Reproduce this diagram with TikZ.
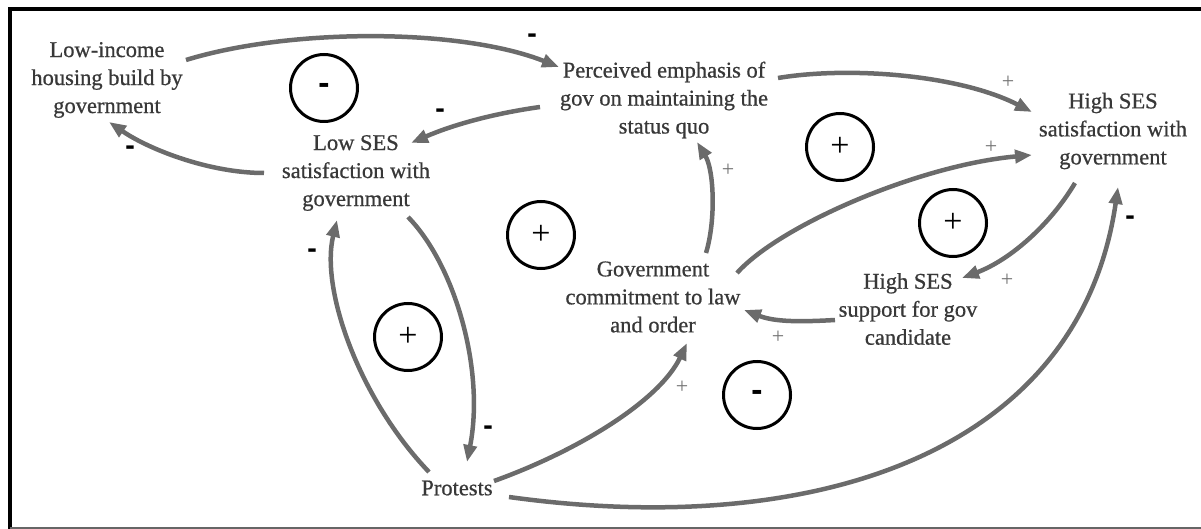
\documentclass[tikz,border=0pt]{standalone}
\usepackage{fontspec}
\setmainfont{Liberation Serif}
\newfontfamily\varfont[FakeBold=0.7]{Liberation Serif}
\newfontfamily\signfont{DejaVu Sans}
\usetikzlibrary{arrows.meta,calc}
\begin{document}
\begin{tikzpicture}[x=1pt,y=-1pt,
  var/.style={align=center, text=black!78, font=\varfont\fontsize{22.5}{28}\selectfont, inner sep=0pt},
  link/.style={draw=black!58, line width=4.5pt, -{Triangle[length=17pt,width=13pt]}},
  loopc/.style={circle, draw=black, line width=3pt, minimum size=67pt, inner sep=0pt, font=\fontsize{34}{34}\selectfont},
  negsign/.style={font=\signfont\bfseries\fontsize{24}{24}\selectfont, text=black, inner sep=0pt},
  possign/.style={font=\fontsize{22}{22}\selectfont, text=black!55, inner sep=0pt}]
\useasboundingbox (0,0) rectangle (1201,529);
% frame
\draw[line width=4.5pt] (10,535) -- (10,9) -- (1210,9);
\draw[black!60, line width=2pt] (10,528) -- (1210,528);

% variables
\node[var] (li) at (107,80) {Low-income\\housing build by\\government};
\node[var] (pe) at (664,100) {Perceived emphasis of\\gov on maintaining the\\status quo};
\node[var] (ls) at (356,173) {Low SES\\satisfaction with\\government};
\node[var] (hs) at (1113,131) {High SES\\satisfaction with\\government};
\node[var] (gc) at (653,297) {Government\\commitment to law\\and order};
\node[var] (hp) at (908,309) {High SES\\support for gov\\candidate};
\node[var] (pr) at (457,488) {Protests};

% links
\draw[link] ($(li)+(79,-20)$) .. controls (290,28) and (460,28) .. ($(pe)+(-105,-33)$);
\draw[link] ($(pe)+(-124,7)$) .. controls (490,114) and (450,126) .. ($(ls)+(55,-30)$);
\draw[link] ($(ls)+(-92,0)$) .. controls (210,173) and (150,150) .. ($(li)+(2,42)$);
\draw[link] ($(pe)+(114,-22)$) .. controls (850,66) and (960,75) .. ($(hs)+(-81,-19)$);
\draw[link] ($(gc)+(53,-44)$) .. controls (716,220) and (714,170) .. ($(pe)+(33,42)$);
\draw[link] ($(gc)+(84,-24)$) .. controls (780,225) and (920,165) .. ($(hs)+(-81,24)$);
\draw[link] ($(hs)+(-38,52)$) .. controls (1050,225) and (1010,260) .. ($(hp)+(54,-31)$);
\draw[link] ($(hp)+(-73,11)$) .. controls (800,322) and (775,322) .. ($(gc)+(91,13)$);
\draw[link] ($(pr)+(37,-7)$) .. controls (580,450) and (660,400) .. ($(gc)+(34,46)$);
\draw[link] ($(pr)+(52,9)$) .. controls (820,540) and (1080,450) .. ($(hs)+(5,56)$);
\draw[link] ($(pr)+(-28,-16)$) .. controls (360,400) and (320,290) .. ($(ls)+(-19,47)$);
\draw[link] ($(ls)+(52,44)$) .. controls (455,265) and (485,370) .. ($(pr)+(10,-26)$);

% polarity labels
\node[negsign] (s1) at (532,38) {-};
\node[negsign] (s2) at (440,113) {-};
\node[negsign] (s3) at (130,150) {-};
\node[possign] (s4) at (1008,82) {+};
\node[possign] (s5) at (728,170) {+};
\node[possign] (s6) at (991,147) {+};
\node[possign] (s7) at (1007,280) {+};
\node[possign] (s8) at (778,337) {+};
\node[possign] (s9) at (682,387) {+};
\node[negsign] (s10) at (1130,220) {-};
\node[negsign] (s11) at (312,253) {-};
\node[negsign] (s12) at (488,430) {-};

% loop markers
\node[loopc] (c1) at (324,88) {\signfont\bfseries\fontsize{28}{28}\selectfont -};
\node[loopc] (c2) at (541,235) {+};
\node[loopc] (c3) at (408,337) {+};
\node[loopc] (c4) at (840,147) {+};
\node[loopc] (c5) at (953,223) {+};
\node[loopc] (c6) at (757,395) {\signfont\bfseries\fontsize{28}{28}\selectfont -};
\end{tikzpicture}
\end{document}
